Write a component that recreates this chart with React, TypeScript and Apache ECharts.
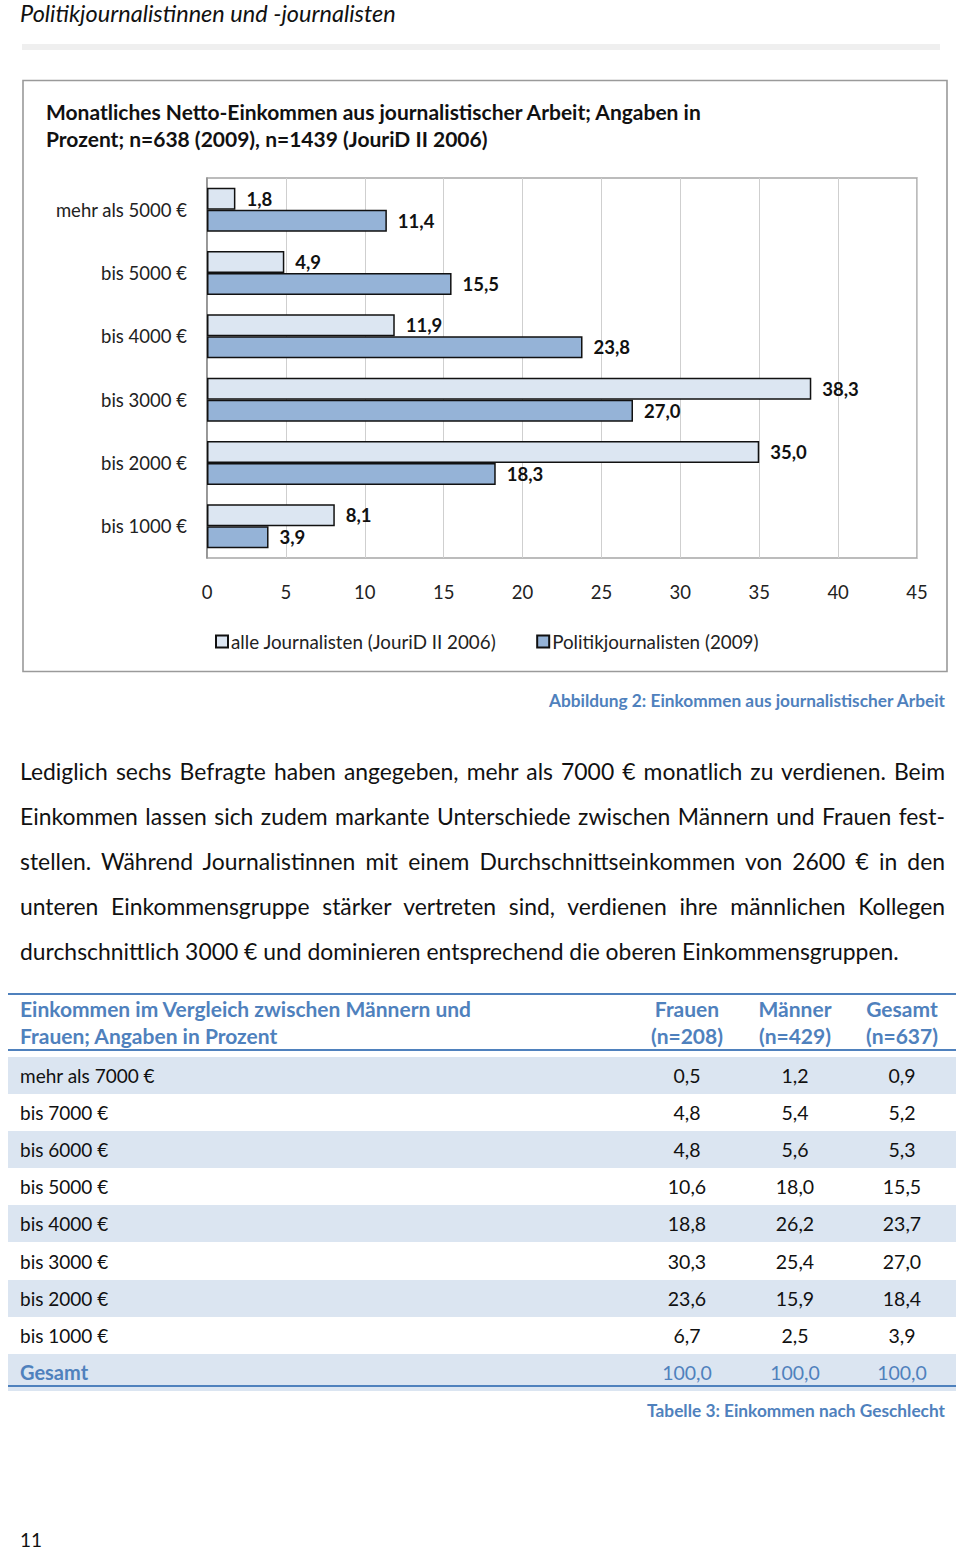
import React, { useEffect, useRef } from "react";
import * as echarts from "echarts";

const categories = ["mehr als 5000 €", "bis 5000 €", "bis 4000 €", "bis 3000 €", "bis 2000 €", "bis 1000 €"];
const alleJournalisten = [1.8, 4.9, 11.9, 38.3, 35.0, 8.1];
const politikJournalisten = [11.4, 15.5, 23.8, 27.0, 18.3, 3.9];
const seriesNames = ["alle Journalisten (JouriD II 2006)", "Politikjournalisten (2009)"];

const tableCategories = ["mehr als 7000 €", "bis 7000 €", "bis 6000 €", "bis 5000 €", "bis 4000 €", "bis 3000 €", "bis 2000 €", "bis 1000 €"];
const frauen = ["0,5", "4,8", "4,8", "10,6", "18,8", "30,3", "23,6", "6,7"];
const maenner = ["1,2", "5,4", "5,6", "18,0", "26,2", "25,4", "15,9", "2,5"];
const gesamt = ["0,9", "5,2", "5,3", "15,5", "23,7", "27,0", "18,4", "3,9"];
const totals = ["100,0", "100,0", "100,0"];
const tableHeaders = [["Frauen", "(n=208)"], ["Männer", "(n=429)"], ["Gesamt", "(n=637)"]];

const paragraphLines = [
  "Lediglich sechs Befragte haben angegeben, mehr als 7000 € monatlich zu verdienen. Beim",
  "Einkommen lassen sich zudem markante Unterschiede zwischen Männern und Frauen fest-",
  "stellen. Während Journalistinnen mit einem Durchschnittseinkommen von 2600 € in den",
  "unteren Einkommensgruppe stärker vertreten sind, verdienen ihre männlichen Kollegen",
  "durchschnittlich 3000 € und dominieren entsprechend die oberen Einkommensgruppen.",
];

const FONT = "Lato, 'Open Sans', sans-serif";
const BLUE = "#4f81bd";

const fmt = (v: number) => v.toFixed(1).replace(".", ",");

export default function App() {
  const ref = useRef<HTMLDivElement>(null);

  useEffect(() => {
    if (!ref.current) return;
    const chart = echarts.init(ref.current, undefined, { renderer: "svg" });
    const labelStyle = {
      show: true,
      position: "right" as const,
      distance: 11,
      fontFamily: FONT,
      fontWeight: "bold" as const,
      fontSize: 18.5,
      color: "#111",
      formatter: (p: any) => fmt(p.value),
    };
    chart.setOption({
      animation: false,
      textStyle: { fontFamily: FONT },
      graphic: [
        {
          type: "text",
          x: 20,
          y: 13,
          style: { text: "Politikjournalistinnen und -journalisten", font: `italic 23.5px ${FONT}`, fill: "#111", verticalAlign: "middle" },
        },
        { type: "rect", shape: { x: 22, y: 44, width: 918, height: 6 }, style: { fill: "#efefef" } },
        {
          type: "rect",
          shape: { x: 23, y: 80.5, width: 924, height: 591 },
          style: { fill: "none", stroke: "#9a9a9a", lineWidth: 1.6 },
        },
        {
          type: "text",
          x: 46,
          y: 98,
          style: {
            text: "Monatliches Netto-Einkommen aus journalistischer Arbeit; Angaben in\nProzent; n=638 (2009), n=1439 (JouriD II 2006)",
            font: `bold 21px ${FONT}`,
            lineHeight: 27,
            fill: "#111",
          },
        },
        {
          type: "text",
          x: 945,
          y: 700,
          style: {
            text: "Abbildung 2: Einkommen aus journalistischer Arbeit",
            font: `bold 17.3px ${FONT}`,
            fill: BLUE,
            align: "right",
            verticalAlign: "middle",
          },
        },
      ],
      grid: { left: 207, top: 178, width: 710, height: 380, show: true, borderColor: "#a6a6a6", borderWidth: 1.5 },
      xAxis: {
        type: "value",
        min: 0,
        max: 45,
        interval: 5,
        axisLine: { show: false },
        axisTick: { show: false },
        splitLine: { show: true, lineStyle: { color: "#cfcfcf", width: 1 } },
        axisLabel: { fontFamily: FONT, fontSize: 18.5, color: "#222", margin: 24 },
      },
      yAxis: {
        type: "category",
        data: categories,
        inverse: true,
        axisLine: { show: true, lineStyle: { color: "#8a8a8a", width: 1.5 } },
        axisTick: { show: false },
        axisLabel: { fontFamily: FONT, fontSize: 18.5, color: "#222", margin: 20 },
      },
      legend: {
        left: 210,
        top: 627,
        icon: "rect",
        itemWidth: 12,
        itemHeight: 12,
        itemGap: 40,
        textStyle: { fontFamily: FONT, fontSize: 18.8, color: "#222", padding: [0, 0, 0, -2] },
        data: seriesNames,
      },
      series: [
        {
          name: seriesNames[0],
          type: "bar",
          data: alleJournalisten,
          barWidth: 22,
          barGap: "0%",
          itemStyle: { color: "#dce6f2", borderColor: "#111", borderWidth: 1.5 },
          label: labelStyle,
        },
        {
          name: seriesNames[1],
          type: "bar",
          data: politikJournalisten,
          barWidth: 22,
          barGap: "0%",
          itemStyle: { color: "#95b3d7", borderColor: "#111", borderWidth: 1.5 },
          label: labelStyle,
        },
      ],
    });
    return () => chart.dispose();
  }, []);

  const colCenters = [687, 795, 902];
  const rowTop0 = 1057;
  const rowH = 37.1;

  return (
    <div style={{ position: "absolute", left: 0, top: 0, width: 960, height: 1551, background: "#fff", fontFamily: FONT, color: "#111", overflow: "hidden" }}>
      <div ref={ref} style={{ position: "absolute", left: 0, top: 0, width: 960, height: 720 }} />
      {paragraphLines.map((line, i) => (
        <div
          key={i}
          style={{
            position: "absolute",
            left: 20,
            top: 748.5 + i * 45,
            width: 925,
            height: 45,
            lineHeight: "45px",
            fontSize: 22.9,
            whiteSpace: "nowrap",
            textAlign: "justify",
            textAlignLast: i < paragraphLines.length - 1 ? "justify" : "left",
          } as React.CSSProperties}
        >
          {line}
        </div>
      ))}
      {/* table */}
      <div style={{ position: "absolute", left: 8, top: 993, width: 948, height: 2, background: BLUE }} />
      <div style={{ position: "absolute", left: 20, top: 995, fontSize: 21, fontWeight: "bold", color: BLUE, lineHeight: "27px" }}>
        Einkommen im Vergleich zwischen Männern und
        <br />
        Frauen; Angaben in Prozent
      </div>
      {tableHeaders.map((h, j) => (
        <div
          key={j}
          style={{ position: "absolute", left: colCenters[j] - 50, width: 100, top: 995, textAlign: "center", fontSize: 21, fontWeight: "bold", color: BLUE, lineHeight: "27px" }}
        >
          {h[0]}
          <br />
          {h[1]}
        </div>
      ))}
      <div style={{ position: "absolute", left: 8, top: 1049, width: 948, height: 2, background: BLUE }} />
      {tableCategories.map((c, i) => {
        const top = rowTop0 + i * rowH;
        return (
          <React.Fragment key={c}>
            {i % 2 === 0 && (
              <div style={{ position: "absolute", left: 8, top: top, width: 948, height: rowH, background: "#dbe5f1" }} />
            )}
            <div style={{ position: "absolute", left: 20, top, height: rowH, lineHeight: rowH + "px", fontSize: 19 }}>{c}</div>
            {[frauen[i], maenner[i], gesamt[i]].map((v, j) => (
              <div key={j} style={{ position: "absolute", left: colCenters[j] - 50, width: 100, top, height: rowH, lineHeight: rowH + "px", fontSize: 19.5, textAlign: "center" }}>
                {v}
              </div>
            ))}
          </React.Fragment>
        );
      })}
      {(() => {
        const top = rowTop0 + 8 * rowH;
        return (
          <>
            <div style={{ position: "absolute", left: 8, top, width: 948, height: rowH, background: "#dbe5f1" }} />
            <div style={{ position: "absolute", left: 20, top, height: rowH, lineHeight: rowH + "px", fontSize: 20, fontWeight: "bold", color: BLUE }}>Gesamt</div>
            {totals.map((v, j) => (
              <div key={j} style={{ position: "absolute", left: colCenters[j] - 50, width: 100, top, height: rowH, lineHeight: rowH + "px", fontSize: 19.5, textAlign: "center", color: BLUE }}>
                {v}
              </div>
            ))}
          </>
        );
      })()}
      <div style={{ position: "absolute", left: 8, top: 1385, width: 948, height: 2, background: BLUE }} />
      <div style={{ position: "absolute", right: 15, top: 1400, fontSize: 17.3, fontWeight: "bold", color: BLUE, lineHeight: "22px" }}>
        Tabelle 3: Einkommen nach Geschlecht
      </div>
      <div style={{ position: "absolute", left: 20, top: 1531, fontSize: 19, lineHeight: "18px" }}>11</div>
    </div>
  );
}
